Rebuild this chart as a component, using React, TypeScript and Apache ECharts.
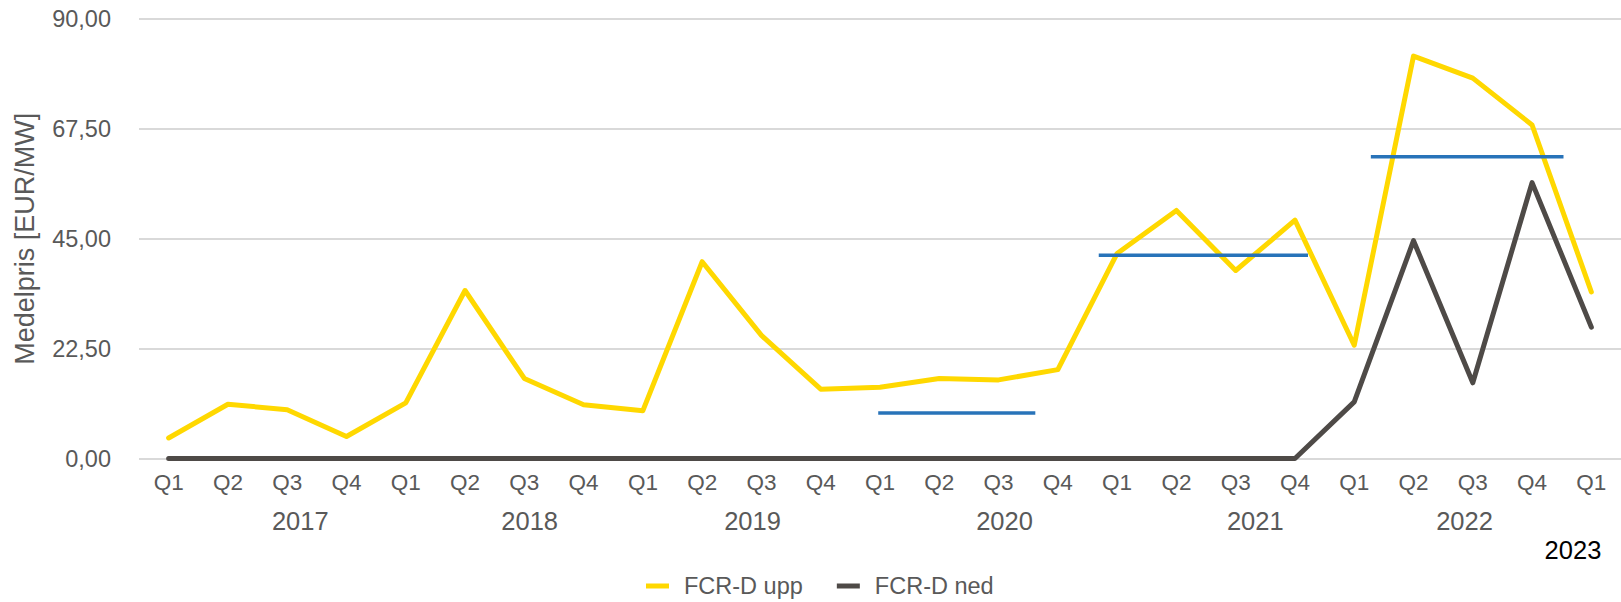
import React, { useEffect, useRef } from "react";
import * as echarts from "echarts";

const quarters = [
  "Q1", "Q2", "Q3", "Q4",
  "Q1", "Q2", "Q3", "Q4",
  "Q1", "Q2", "Q3", "Q4",
  "Q1", "Q2", "Q3", "Q4",
  "Q1", "Q2", "Q3", "Q4",
  "Q1", "Q2", "Q3", "Q4",
  "Q1",
];

const fcrdUpp = [
  4.2, 11.1, 10.0, 4.5,
  11.4, 34.4, 16.4, 11.0,
  9.8, 40.3, 25.2, 14.2,
  14.6, 16.4, 16.1, 18.2,
  42.0, 50.8, 38.5, 48.8,
  23.2, 82.4, 77.9, 68.3,
  34.1,
];

const fcrdNed = [
  0, 0, 0, 0,
  0, 0, 0, 0,
  0, 0, 0, 0,
  0, 0, 0, 0,
  0, 0, 0, 0,
  11.6, 44.6, 15.5, 56.5,
  26.9,
];

// yearly averages (horizontal segments), spans in category-index units
const avgValues = [9.3, 41.6, 61.8];
const avgStart = [11.97, 15.69, 20.28];
const avgEnd = [14.62, 19.22, 23.53];

const yearLabels = ["2017", "2018", "2019", "2020", "2021", "2022"];
const yearPos = [2.22, 6.09, 9.85, 14.1, 18.33, 21.86];
const lastYearLabel = "2023";
const lastYearPos = 23.69;

const yTicks = [0, 22.5, 45, 67.5, 90];

const GRID_LEFT = 139;
const GRID_RIGHT = 0;
const GRID_TOP = 19;
const GRID_BOTTOM = 143.5;
const W = 1621;
const H = 602;

export default function App() {
  const ref = useRef<HTMLDivElement>(null);

  useEffect(() => {
    document.body.style.margin = "0";
    if (!ref.current) return;
    const chart = echarts.init(ref.current, null, { renderer: "svg" });

    const plotW = W - GRID_LEFT - GRID_RIGHT;
    const step = plotW / quarters.length;
    const idxToPx = (i: number) => GRID_LEFT + (i + 0.5) * step;

    const avgSeries = avgValues.map((v, k) => ({
      type: "line",
      xAxisIndex: 1,
      yAxisIndex: 0,
      data: [
        [avgStart[k], v],
        [avgEnd[k], v],
      ],
      symbol: "none",
      silent: true,
      lineStyle: { color: "#2873b9", width: 3.5, cap: "butt" },
      z: 5,
    }));

    const graphics: any[] = yearLabels.map((y, k) => ({
      type: "text",
      x: idxToPx(yearPos[k]),
      y: 521,
      style: {
        text: y,
        fill: "#595959",
        font: "25.5px 'Liberation Sans', Arial, sans-serif",
        align: "center",
        verticalAlign: "middle",
      },
    }));
    graphics.push({
      type: "text",
      x: idxToPx(lastYearPos),
      y: 550,
      style: {
        text: lastYearLabel,
        fill: "#000000",
        font: "25.5px 'Liberation Sans', Arial, sans-serif",
        align: "center",
        verticalAlign: "middle",
      },
    });

    chart.setOption({
      animation: false,
      textStyle: { fontFamily: "'Liberation Sans', Arial, sans-serif" },
      grid: {
        left: GRID_LEFT,
        right: GRID_RIGHT,
        top: GRID_TOP,
        bottom: GRID_BOTTOM,
        containLabel: false,
      },
      legend: {
        data: ["FCR-D upp", "FCR-D ned"],
        left: 641,
        top: 569,
        icon: "rect",
        itemWidth: 23,
        itemHeight: 5,
        itemGap: 34,
        textStyle: {
          fontSize: 23.5,
          color: "#595959",
          padding: [0, 0, 0, 10],
        },
      },
      xAxis: [
        {
          type: "category",
          data: quarters,
          boundaryGap: true,
          axisLine: { show: false },
          axisTick: { show: false },
          axisLabel: {
            interval: 0,
            fontSize: 22.5,
            color: "#595959",
            margin: 12,
          },
        },
        {
          type: "value",
          min: -0.5,
          max: quarters.length - 0.5,
          show: false,
          splitLine: { show: false },
        },
      ],
      yAxis: {
        type: "value",
        min: yTicks[0],
        max: yTicks[yTicks.length - 1],
        interval: yTicks[1] - yTicks[0],
        name: "Medelpris [EUR/MW]",
        nameLocation: "middle",
        nameGap: 101,
        nameTextStyle: { fontSize: 27, color: "#595959" },
        axisLine: { show: false },
        axisTick: { show: false },
        axisLabel: {
          fontSize: 23.5,
          color: "#595959",
          margin: 28,
          formatter: (v: number) => v.toFixed(2).replace(".", ","),
        },
        splitLine: { lineStyle: { color: "#d9d9d9", width: 2 } },
      },
      series: [
        {
          name: "FCR-D ned",
          type: "line",
          data: fcrdNed,
          symbol: "none",
          lineStyle: { color: "#4e4a47", width: 5, cap: "round", join: "round" },
          itemStyle: { color: "#4e4a47" },
          z: 3,
        },
        {
          name: "FCR-D upp",
          type: "line",
          data: fcrdUpp,
          symbol: "none",
          lineStyle: { color: "#ffd800", width: 5, cap: "round", join: "round" },
          itemStyle: { color: "#ffd800" },
          z: 4,
        },
        ...avgSeries,
      ],
      graphic: graphics,
    });

    return () => chart.dispose();
  }, []);

  return <div ref={ref} style={{ width: W, height: H }} />;
}
